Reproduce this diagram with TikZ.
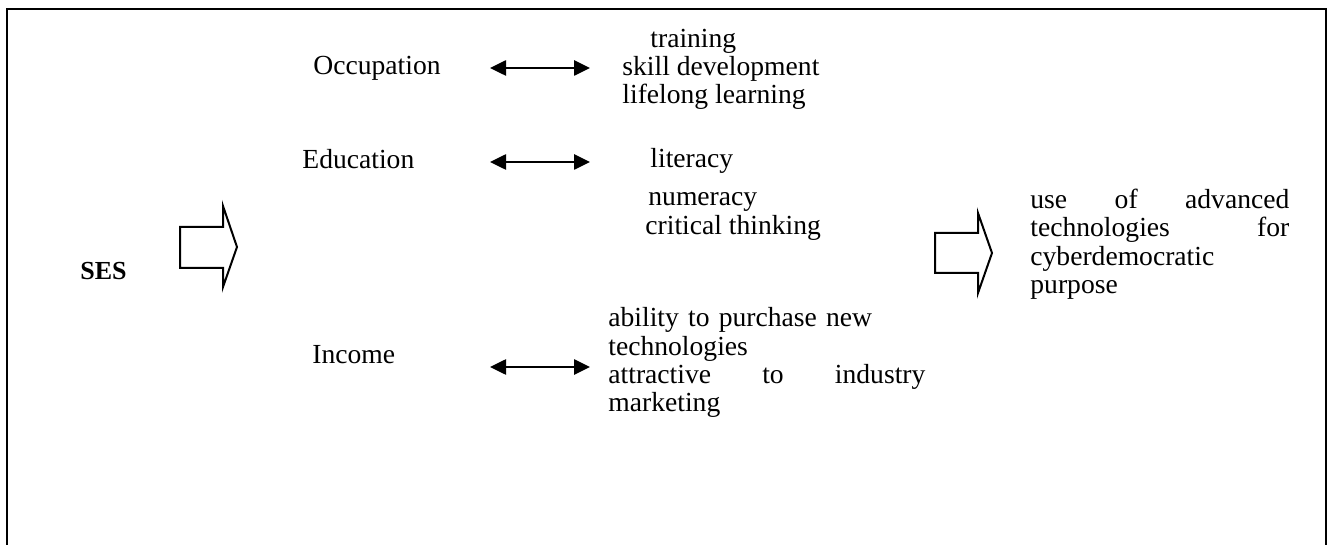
\documentclass[tikz,border=0pt]{standalone}
\usepackage{fontspec}
\setmainfont{Liberation Serif}
\usetikzlibrary{arrows.meta}
\tikzset{
  lbl/.style={anchor=base west, inner sep=0pt, font=\fontsize{13.8}{15}\selectfont},
  jst/.style={lbl, text width=#1},
  dbl/.style={{Triangle[length=8pt,width=7.5pt]}-{Triangle[length=8pt,width=7.5pt]}, line width=1.3pt},
  fat/.style={line width=1pt, line join=miter}
}
\begin{document}
\begin{tikzpicture}[x=0.5pt, y=-0.5pt]
                \useasboundingbox (0,0) rectangle (1333,545);
                \draw [line width=1pt] (7,545) -- (7,9) -- (1326,9) -- (1326,545);
                % left side
                \node [lbl, font=\fontsize{13}{15}\selectfont\bfseries] (ses) at (80,279) {SES};
                \draw [fat] (180,227) -- (223,227) -- (223,206) -- (237,247) -- (223,287) -- (223,268) -- (180,268) -- cycle;
                \node [lbl] (occ) at (313,75) {Occupation};
                \node [lbl] (edu) at (302,169) {Education};
                \node [lbl] (inc) at (312,363) {Income};
                % double arrows
                \coordinate (occl) at (490,68);
                \coordinate (occr) at (590,68);
                \coordinate (edul) at (490,162);
                \coordinate (edur) at (590,162);
                \coordinate (incl) at (490,367);
                \coordinate (incr) at (590,367);
                \draw [dbl] (occl) -- (occr);
                \draw [dbl] (edul) -- (edur);
                \draw [dbl] (incl) -- (incr);
                % lists
                \node [lbl] (occa) at (650,48) {training};
                \node [lbl] (occb) at (622,76) {skill development};
                \node [lbl] (occc) at (622,104) {lifelong learning};
                \node [lbl] (edua) at (650,168) {literacy};
                \node [lbl] (edub) at (648,206) {numeracy};
                \node [lbl] (educ) at (645,235) {critical thinking};
                \node [jst=158.5pt] (inca) at (608,327) {ability to purchase new};
                \node [lbl] (incb) at (608,355) {technologies};
                \node [jst=158.5pt] (incc) at (608,383) {attractive\hfill to\hfill industry};
                \node [lbl] (incd) at (608,411) {marketing};
                % right side
                \draw [fat] (935,233) -- (978,233) -- (978,213) -- (992,253) -- (978,293) -- (978,273) -- (935,273) -- cycle;
                \node [jst=129.5pt] (usea) at (1030,209) {use\hfill of\hfill advanced};
                \node [jst=129.5pt] (useb) at (1030,237) {technologies\hfill for};
                \node [lbl] (usec) at (1030,265) {cyberdemocratic};
                \node [lbl] (used) at (1030,293) {purpose};
\end{tikzpicture}
\end{document}
